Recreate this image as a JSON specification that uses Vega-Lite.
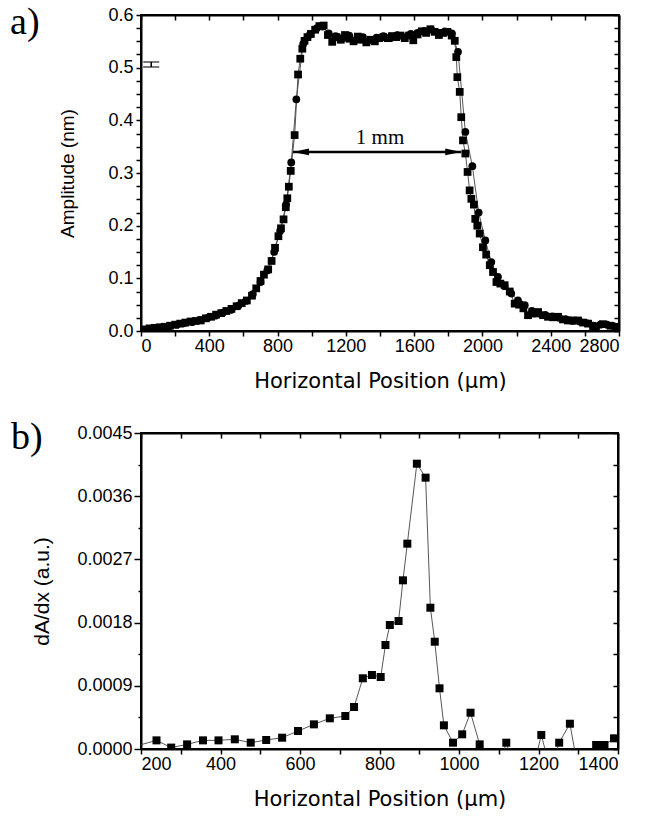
{
  "$schema": "https://vega.github.io/schema/vega-lite/v6.json",
  "padding": {"left": 9, "top": 2, "right": 10, "bottom": 5},
  "background": "white",
  "spacing": 26,
  "config": {
    "view": {"stroke": "black", "strokeWidth": 2},
    "axis": {
      "domainColor": "black", "domainWidth": 2, "tickColor": "black", "tickWidth": 1.5,
      "labelFont": "Liberation Sans", "labelFontSize": 18, "labelColor": "black",
      "titleFont": "Liberation Sans", "titleFontSize": 19, "titleFontWeight": "normal", "titleColor": "black",
      "grid": false
    }
  },
  "datasets": {
    "profile": [
      {"x":20,"y":0.003,"s":"S"},{"x":50,"y":0.005,"s":"S"},{"x":80,"y":0.006,"s":"S"},{"x":110,"y":0.007,"s":"S"},{"x":140,"y":0.008,"s":"S"},{"x":170,"y":0.010,"s":"S"},{"x":200,"y":0.012,"s":"S"},{"x":230,"y":0.014,"s":"S"},{"x":260,"y":0.016,"s":"S"},{"x":290,"y":0.018,"s":"S"},{"x":320,"y":0.019,"s":"S"},{"x":350,"y":0.020,"s":"S"},{"x":380,"y":0.024,"s":"S"},{"x":410,"y":0.027,"s":"S"},{"x":440,"y":0.031,"s":"S"},{"x":470,"y":0.034,"s":"S"},{"x":500,"y":0.038,"s":"S"},{"x":530,"y":0.042,"s":"S"},{"x":560,"y":0.047,"s":"S"},{"x":590,"y":0.053,"s":"S"},{"x":620,"y":0.058,"s":"S"},{"x":650,"y":0.067,"s":"S"},{"x":675,"y":0.081,"s":"S"},{"x":700,"y":0.095,"s":"S"},{"x":720,"y":0.107,"s":"S"},{"x":745,"y":0.117,"s":"S"},{"x":765,"y":0.133,"s":"S"},{"x":785,"y":0.158,"s":"S"},{"x":805,"y":0.180,"s":"S"},{"x":820,"y":0.195,"s":"S"},{"x":835,"y":0.212,"s":"S"},{"x":848,"y":0.235,"s":"S"},{"x":857,"y":0.252,"s":"S"},{"x":866,"y":0.274,"s":"S"},{"x":877,"y":0.304,"s":"S"},{"x":900,"y":0.372,"s":"S"},{"x":920,"y":0.487,"s":"S"},{"x":933,"y":0.517,"s":"S"},{"x":945,"y":0.536,"s":"S"},{"x":958,"y":0.551,"s":"S"},{"x":975,"y":0.558,"s":"S"},{"x":995,"y":0.564,"s":"S"},{"x":1020,"y":0.572,"s":"S"},{"x":1045,"y":0.579,"s":"S"},{"x":1070,"y":0.580,"s":"S"},
      {"x":1095,"y":0.562,"s":"S"},{"x":1120,"y":0.549,"s":"S"},{"x":1145,"y":0.558,"s":"S"},{"x":1170,"y":0.553,"s":"S"},{"x":1195,"y":0.562,"s":"S"},{"x":1220,"y":0.555,"s":"S"},{"x":1245,"y":0.550,"s":"S"},{"x":1270,"y":0.559,"s":"S"},{"x":1295,"y":0.553,"s":"S"},{"x":1320,"y":0.548,"s":"S"},{"x":1345,"y":0.553,"s":"S"},{"x":1370,"y":0.550,"s":"S"},{"x":1395,"y":0.556,"s":"S"},{"x":1420,"y":0.558,"s":"S"},{"x":1445,"y":0.556,"s":"S"},{"x":1470,"y":0.560,"s":"S"},{"x":1495,"y":0.558,"s":"S"},{"x":1520,"y":0.561,"s":"S"},{"x":1545,"y":0.556,"s":"S"},{"x":1570,"y":0.561,"s":"S"},{"x":1595,"y":0.552,"s":"S"},{"x":1620,"y":0.563,"s":"S"},{"x":1645,"y":0.569,"s":"S"},{"x":1670,"y":0.566,"s":"S"},{"x":1695,"y":0.573,"s":"S"},{"x":1720,"y":0.568,"s":"S"},{"x":1745,"y":0.562,"s":"S"},{"x":1770,"y":0.566,"s":"S"},{"x":1795,"y":0.568,"s":"S"},{"x":1820,"y":0.561,"s":"S"},{"x":1838,"y":0.551,"s":"S"},
      {"x":1847,"y":0.520,"s":"S"},{"x":1853,"y":0.482,"s":"S"},{"x":1867,"y":0.454,"s":"S"},{"x":1876,"y":0.406,"s":"S"},{"x":1886,"y":0.362,"s":"S"},{"x":1900,"y":0.337,"s":"S"},{"x":1913,"y":0.302,"s":"S"},{"x":1925,"y":0.267,"s":"S"},{"x":1935,"y":0.251,"s":"S"},{"x":1950,"y":0.240,"s":"S"},{"x":1958,"y":0.213,"s":"S"},{"x":1970,"y":0.200,"s":"S"},{"x":1984,"y":0.185,"s":"S"},{"x":2003,"y":0.159,"s":"S"},{"x":2022,"y":0.145,"s":"S"},{"x":2043,"y":0.125,"s":"S"},{"x":2062,"y":0.112,"s":"S"},{"x":2082,"y":0.093,"s":"S"},{"x":2105,"y":0.090,"s":"S"},{"x":2130,"y":0.087,"s":"S"},{"x":2160,"y":0.075,"s":"S"},{"x":2189,"y":0.052,"s":"S"},{"x":2215,"y":0.050,"s":"S"},{"x":2240,"y":0.043,"s":"S"},{"x":2267,"y":0.030,"s":"S"},{"x":2295,"y":0.033,"s":"S"},{"x":2326,"y":0.036,"s":"S"},{"x":2355,"y":0.030,"s":"S"},{"x":2384,"y":0.027,"s":"S"},{"x":2414,"y":0.026,"s":"S"},{"x":2443,"y":0.027,"s":"S"},{"x":2472,"y":0.022,"s":"S"},{"x":2501,"y":0.020,"s":"S"},{"x":2530,"y":0.020,"s":"S"},{"x":2560,"y":0.020,"s":"S"},{"x":2590,"y":0.016,"s":"S"},{"x":2619,"y":0.014,"s":"S"},{"x":2648,"y":0.009,"s":"S"},{"x":2665,"y":0.005,"s":"S"},{"x":2706,"y":0.013,"s":"S"},{"x":2750,"y":0.010,"s":"S"},{"x":2795,"y":0.008,"s":"S"},
      {"x":30,"y":0.002,"s":"C"},{"x":75,"y":0.005,"s":"C"},{"x":120,"y":0.007,"s":"C"},{"x":165,"y":0.009,"s":"C"},{"x":210,"y":0.012,"s":"C"},{"x":255,"y":0.015,"s":"C"},{"x":300,"y":0.017,"s":"C"},{"x":345,"y":0.021,"s":"C"},{"x":390,"y":0.025,"s":"C"},{"x":435,"y":0.029,"s":"C"},{"x":480,"y":0.035,"s":"C"},{"x":525,"y":0.040,"s":"C"},{"x":570,"y":0.048,"s":"C"},{"x":615,"y":0.057,"s":"C"},{"x":655,"y":0.070,"s":"C"},{"x":700,"y":0.093,"s":"C"},{"x":740,"y":0.115,"s":"C"},{"x":780,"y":0.150,"s":"C"},{"x":815,"y":0.190,"s":"C"},{"x":850,"y":0.240,"s":"C"},{"x":880,"y":0.320,"s":"C"},{"x":910,"y":0.440,"s":"C"},{"x":950,"y":0.545,"s":"C"},{"x":990,"y":0.563,"s":"C"},{"x":1030,"y":0.575,"s":"C"},{"x":1065,"y":0.578,"s":"C"},{"x":1100,"y":0.565,"s":"C"},{"x":1140,"y":0.560,"s":"C"},{"x":1180,"y":0.556,"s":"C"},{"x":1220,"y":0.561,"s":"C"},{"x":1260,"y":0.553,"s":"C"},{"x":1300,"y":0.558,"s":"C"},{"x":1340,"y":0.552,"s":"C"},{"x":1380,"y":0.557,"s":"C"},{"x":1420,"y":0.560,"s":"C"},{"x":1460,"y":0.556,"s":"C"},{"x":1500,"y":0.562,"s":"C"},{"x":1540,"y":0.558,"s":"C"},{"x":1580,"y":0.564,"s":"C"},{"x":1620,"y":0.566,"s":"C"},{"x":1660,"y":0.570,"s":"C"},{"x":1700,"y":0.572,"s":"C"},{"x":1740,"y":0.566,"s":"C"},{"x":1780,"y":0.569,"s":"C"},{"x":1820,"y":0.565,"s":"C"},{"x":1857,"y":0.530,"s":"C"},{"x":1900,"y":0.378,"s":"C"},{"x":1941,"y":0.313,"s":"C"},{"x":1978,"y":0.225,"s":"C"},{"x":2017,"y":0.172,"s":"C"},{"x":2052,"y":0.131,"s":"C"},{"x":2091,"y":0.103,"s":"C"},{"x":2130,"y":0.085,"s":"C"},{"x":2169,"y":0.071,"s":"C"},{"x":2208,"y":0.058,"s":"C"},{"x":2248,"y":0.049,"s":"C"},{"x":2290,"y":0.038,"s":"C"},{"x":2330,"y":0.033,"s":"C"},{"x":2370,"y":0.030,"s":"C"},{"x":2410,"y":0.028,"s":"C"},{"x":2450,"y":0.025,"s":"C"},{"x":2490,"y":0.022,"s":"C"},{"x":2530,"y":0.019,"s":"C"},{"x":2570,"y":0.018,"s":"C"},{"x":2610,"y":0.015,"s":"C"},{"x":2650,"y":0.010,"s":"C"},{"x":2690,"y":0.012,"s":"C"},{"x":2730,"y":0.012,"s":"C"},{"x":2770,"y":0.009,"s":"C"}
    ],
    "deriv": [
      {"x":180,"y":0.00003},{"x":239,"y":0.000123},{"x":276,"y":0.00002},{"x":316,"y":0.000066},{"x":356,"y":0.000123},{"x":395,"y":0.000123},{"x":436,"y":0.000138},{"x":476,"y":0.00009},{"x":515,"y":0.000128},{"x":555,"y":0.000161},{"x":595,"y":0.000256},{"x":635,"y":0.000351},{"x":675,"y":0.000437},{"x":714,"y":0.00047},{"x":736,"y":0.000598},{"x":758,"y":0.001007},{"x":781,"y":0.001054},{"x":803,"y":0.001025},{"x":815,"y":0.001481},{"x":826,"y":0.001766},{"x":848,"y":0.001823},{"x":859,"y":0.002402},{"x":870,"y":0.002924},{"x":894,"y":0.004063},{"x":916,"y":0.003864},{"x":928,"y":0.002012},{"x":939,"y":0.001528},{"x":951,"y":0.000864},{"x":962,"y":0.000337},{"x":985,"y":0.00009},{"x":1008,"y":0.000209},{"x":1029,"y":0.000517},{"x":1052,"y":0.000066},{"x":1075,"y":-0.0004},{"x":1097,"y":-0.0003},{"x":1119,"y":0.00009},{"x":1141,"y":-0.0003},{"x":1164,"y":-0.0002},{"x":1186,"y":-0.0003},{"x":1207,"y":0.0002},{"x":1230,"y":-0.0003},{"x":1252,"y":0.00009},{"x":1279,"y":0.00036},{"x":1300,"y":-0.0003},{"x":1322,"y":-0.0002},{"x":1345,"y":0.000057},{"x":1356,"y":0.000057},{"x":1366,"y":0.000057},{"x":1390,"y":0.000152},{"x":1420,"y":0.0003}
    ],
    "errbar": [{"x":60,"y":0.5013},{"x":60,"y":0.5108}],
    "arrowline": [{"x1":890,"x2":1876,"y":0.34}],
    "arrowheads": [{"x":937,"y":0.34,"end":"left"},{"x":1829,"y":0.34,"end":"right"}],
    "note": [{"x":1400,"y":0.355,"label":"1 mm"}],
    "labelA": [{"x":-767,"y":0.564,"label":"a)"}],
    "labelB": [{"x":-127,"y":0.00427,"label":"b)"}]
  },
  "vconcat": [
    {
      "width": 478, "height": 316,
      "resolve": {"axis": {"x": "independent", "y": "independent"}, "scale": {"shape": "independent"}},
      "layer": [
        {
          "data": {"name": "profile"},
          "mark": {"type": "line", "color": "#444", "strokeWidth": 0.9, "clip": true},
          "encoding": {
            "x": {"field": "x", "type": "quantitative", "scale": {"domain": [0, 2800], "nice": false},
              "axis": {"orient": "bottom", "title": "Horizontal Position (µm)", "titleFont": "DejaVu Sans", "titleFontSize": 21, "values": [0,200,400,600,800,1000,1200,1400,1600,1800,2000,2200,2400,2600,2800],
                "labelExpr": "datum.value % 400 === 0 ? datum.label : ''", "format": "d", "tickSize": 5, "labelPadding": 1, "titlePadding": 15, "labelOverlap": false}},
            "y": {"field": "y", "type": "quantitative", "scale": {"domain": [0, 0.6], "nice": false},
              "axis": {"orient": "left", "title": "Amplitude (nm)", "values": [0,0.025,0.05,0.075,0.1,0.125,0.15,0.175,0.2,0.225,0.25,0.275,0.3,0.325,0.35,0.375,0.4,0.425,0.45,0.475,0.5,0.525,0.55,0.575,0.6],
                "labelExpr": "round(datum.value*40) % 4 === 0 ? format(datum.value, '.1f') : ''", "tickSize": 5, "labelPadding": 3, "titlePadding": 30, "labelOverlap": false}},
            "detail": {"field": "s"}
          }
        },
        {
          "data": {"name": "profile"},
          "mark": {"type": "point", "filled": true, "color": "black", "opacity": 1, "size": 60, "clip": true},
          "encoding": {
            "x": {"field": "x", "type": "quantitative",
              "axis": {"orient": "top", "title": null, "labels": false, "values": [0,200,400,600,800,1000,1200,1400,1600,1800,2000,2200,2400,2600,2800], "tickSize": -5}},
            "y": {"field": "y", "type": "quantitative",
              "axis": {"orient": "right", "title": null, "labels": false, "values": [0,0.025,0.05,0.075,0.1,0.125,0.15,0.175,0.2,0.225,0.25,0.275,0.3,0.325,0.35,0.375,0.4,0.425,0.45,0.475,0.5,0.525,0.55,0.575,0.6], "tickSize": -5}},
            "shape": {"field": "s", "type": "nominal", "scale": {"domain": ["S", "C"], "range": ["square", "circle"]}, "legend": null}
          }
        },
        {
          "data": {"name": "errbar"},
          "mark": {"type": "rule", "color": "black", "strokeWidth": 1.5},
          "encoding": {
            "x": {"field": "x", "type": "quantitative", "axis": null},
            "y": {"field": "y", "type": "quantitative", "aggregate": "min", "axis": null},
            "y2": {"field": "y", "aggregate": "max"}
          }
        },
        {
          "data": {"name": "errbar"},
          "mark": {"type": "tick", "orient": "horizontal", "color": "black", "size": 16, "thickness": 1.5},
          "encoding": {
            "x": {"field": "x", "type": "quantitative", "axis": null},
            "y": {"field": "y", "type": "quantitative", "axis": null}
          }
        },
        {
          "data": {"name": "arrowline"},
          "mark": {"type": "rule", "color": "black", "strokeWidth": 2.5},
          "encoding": {
            "x": {"field": "x1", "type": "quantitative", "axis": null},
            "x2": {"field": "x2"},
            "y": {"field": "y", "type": "quantitative", "axis": null}
          }
        },
        {
          "data": {"name": "arrowheads"},
          "mark": {"type": "point", "filled": true, "color": "black", "opacity": 1, "size": 256},
          "encoding": {
            "x": {"field": "x", "type": "quantitative", "axis": null},
            "y": {"field": "y", "type": "quantitative", "axis": null},
            "shape": {"field": "end", "type": "nominal", "scale": {"domain": ["left", "right"], "range": ["M-1,0L1,-0.42L1,0.42Z", "M1,0L-1,-0.42L-1,0.42Z"]}, "legend": null}
          }
        },
        {
          "data": {"name": "note"},
          "mark": {"type": "text", "font": "Liberation Serif", "fontSize": 21, "color": "black", "align": "center", "baseline": "alphabetic"},
          "encoding": {
            "x": {"field": "x", "type": "quantitative", "axis": null},
            "y": {"field": "y", "type": "quantitative", "axis": null},
            "text": {"field": "label"}
          }
        },
        {
          "data": {"name": "labelA"},
          "mark": {"type": "text", "font": "Liberation Serif", "fontSize": 38, "color": "black", "align": "left", "baseline": "alphabetic", "clip": false},
          "encoding": {
            "x": {"field": "x", "type": "quantitative", "axis": null},
            "y": {"field": "y", "type": "quantitative", "axis": null},
            "text": {"field": "label"}
          }
        }
      ]
    },
    {
      "width": 477, "height": 316,
      "resolve": {"axis": {"x": "independent", "y": "independent"}},
      "layer": [
        {
          "data": {"name": "deriv"},
          "mark": {"type": "line", "color": "#444", "strokeWidth": 0.9, "clip": true},
          "encoding": {
            "x": {"field": "x", "type": "quantitative", "scale": {"domain": [200, 1400], "nice": false},
              "axis": {"orient": "bottom", "title": "Horizontal Position (µm)", "titleFont": "DejaVu Sans", "titleFontSize": 21, "values": [200,300,400,500,600,700,800,900,1000,1100,1200,1300,1400],
                "labelExpr": "datum.value % 200 === 0 ? datum.label : ''", "format": "d", "tickSize": 5, "labelPadding": 1, "titlePadding": 15, "labelOverlap": false}},
            "y": {"field": "y", "type": "quantitative", "scale": {"domain": [0, 0.0045], "nice": false},
              "axis": {"orient": "left", "title": "dA/dx (a.u.)", "titleFontSize": 21, "values": [0,0.00045,0.0009,0.00135,0.0018,0.00225,0.0027,0.00315,0.0036,0.00405,0.0045],
                "labelExpr": "round(datum.value/0.00045) % 2 === 0 ? format(datum.value, '.4f') : ''",
                "tickSize": {"condition": {"test": "round(datum.value/0.00045) % 2 === 0", "value": 7}, "value": 3},
                "labelPadding": 2, "titlePadding": 24, "labelOverlap": false}}
          }
        },
        {
          "data": {"name": "deriv"},
          "mark": {"type": "point", "shape": "square", "filled": true, "color": "black", "opacity": 1, "size": 64, "clip": true},
          "encoding": {
            "x": {"field": "x", "type": "quantitative",
              "axis": {"orient": "top", "title": null, "labels": false, "values": [200,300,400,500,600,700,800,900,1000,1100,1200,1300,1400], "tickSize": -5}},
            "y": {"field": "y", "type": "quantitative",
              "axis": {"orient": "right", "title": null, "labels": false, "values": [0,0.00045,0.0009,0.00135,0.0018,0.00225,0.0027,0.00315,0.0036,0.00405,0.0045], "tickSize": -5}}
          }
        },
        {
          "data": {"name": "labelB"},
          "mark": {"type": "text", "font": "Liberation Serif", "fontSize": 38, "color": "black", "align": "left", "baseline": "alphabetic", "clip": false},
          "encoding": {
            "x": {"field": "x", "type": "quantitative", "axis": null},
            "y": {"field": "y", "type": "quantitative", "axis": null},
            "text": {"field": "label"}
          }
        }
      ]
    }
  ]
}
